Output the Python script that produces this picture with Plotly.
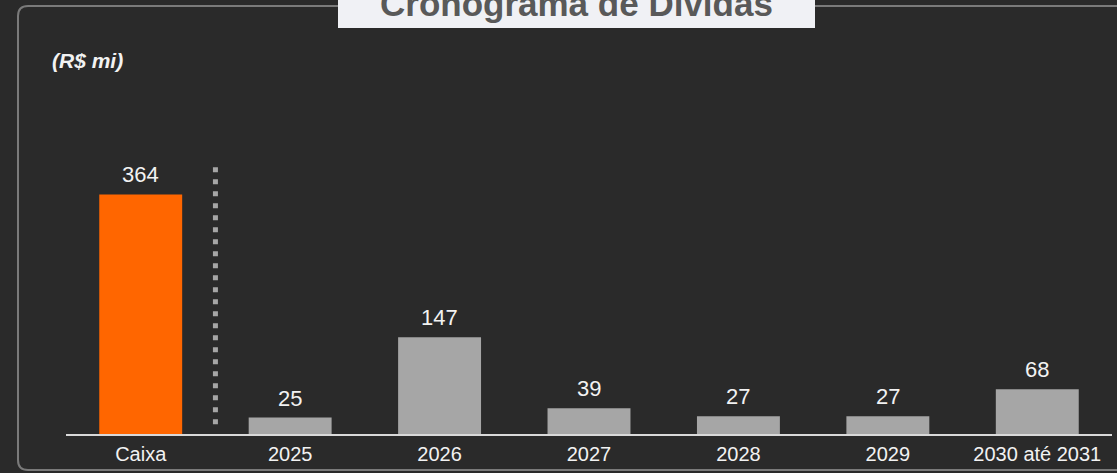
import plotly.graph_objects as go

W, H = 1117, 473

categories = ["Caixa", "2025", "2026", "2027", "2028", "2029", "2030 até 2031"]
values = [364, 25, 147, 39, 27, 27, 68]
bar_colors = ["#ff6600"] + ["#a6a6a6"] * 6

title_text = "Cronograma de Dívidas"
unit_text = "<b><i>(R$ mi)</i></b>"


def px(x):
    return x / W


def py(y):
    return 1 - y / H


Y_MAX = 420
axis_bottom = 434
px_per_unit = 0.658

fig = go.Figure()
fig.add_trace(go.Bar(
    x=categories,
    y=values,
    marker=dict(color=bar_colors, line=dict(width=0)),
    hoverinfo="skip",
))

# value labels above each bar (positioned by category index)
for i, v in enumerate(values):
    fig.add_annotation(
        x=i, y=v, xref="x", yref="y",
        text=str(v), showarrow=False,
        yanchor="bottom", yshift=5,
        font=dict(family="Liberation Sans, Arial", size=22, color="#f2f2f2"),
    )

# rounded frame around the chart
r = 10
x0, y0, x1, y1 = 18, 6, 1135, 470
frame = (
    f"M {px(x0 + r)},{py(y0)} L {px(x1 - r)},{py(y0)} "
    f"Q {px(x1)},{py(y0)} {px(x1)},{py(y0 + r)} "
    f"L {px(x1)},{py(y1 - r)} Q {px(x1)},{py(y1)} {px(x1 - r)},{py(y1)} "
    f"L {px(x0 + r)},{py(y1)} Q {px(x0)},{py(y1)} {px(x0)},{py(y1 - r)} "
    f"L {px(x0)},{py(y0 + r)} Q {px(x0)},{py(y0)} {px(x0 + r)},{py(y0)} Z"
)
fig.add_shape(type="path", path=frame, xref="paper", yref="paper",
              line=dict(color="#7a7a7a", width=2), layer="below")

# title tab
fig.add_shape(type="rect", xref="paper", yref="paper",
              x0=px(338), x1=px(815), y0=py(28), y1=py(-2),
              fillcolor="#f0f1f5", line=dict(width=0), layer="above")
fig.add_annotation(
    x=px(576), y=py(4), xref="paper", yref="paper",
    text=f"<b>{title_text}</b>", showarrow=False,
    xanchor="center", yanchor="middle",
    font=dict(family="Liberation Sans, Arial", size=35, color="#595959"),
)

fig.add_annotation(
    x=px(50), y=py(60), xref="paper", yref="paper",
    text=unit_text, showarrow=False,
    xanchor="left", yanchor="middle",
    font=dict(family="Liberation Sans, Arial", size=21, color="#f2f2f2"),
)

# dotted separator between cash and maturities
fig.add_shape(type="line", xref="x", yref="y",
              x0=0.5, x1=0.5, y0=15, y1=406,
              line=dict(color="#a6a6a6", width=5, dash="5px,7px"))

fig.update_layout(
    width=W, height=H,
    margin=dict(l=0, r=0, t=0, b=0),
    paper_bgcolor="#2a2a2a",
    plot_bgcolor="rgba(0,0,0,0)",
    bargap=0.445,
    showlegend=False,
    xaxis=dict(
        type="category",
        categoryorder="array", categoryarray=categories,
        range=[-0.5, len(categories) - 0.5],
        domain=[px(66), px(1112)],
        showline=True, linecolor="#d9d9d9", linewidth=2,
        showgrid=False, zeroline=False,
        ticks="outside", ticklen=1, tickcolor="rgba(0,0,0,0)",
        tickfont=dict(family="Liberation Sans, Arial", size=20, color="#f2f2f2"),
        fixedrange=True,
    ),
    yaxis=dict(
        domain=[py(axis_bottom), py(axis_bottom - Y_MAX * px_per_unit)],
        range=[0, Y_MAX],
        visible=False, showgrid=False, zeroline=False,
        fixedrange=True,
    ),
)

fig.write_html("out.html")
